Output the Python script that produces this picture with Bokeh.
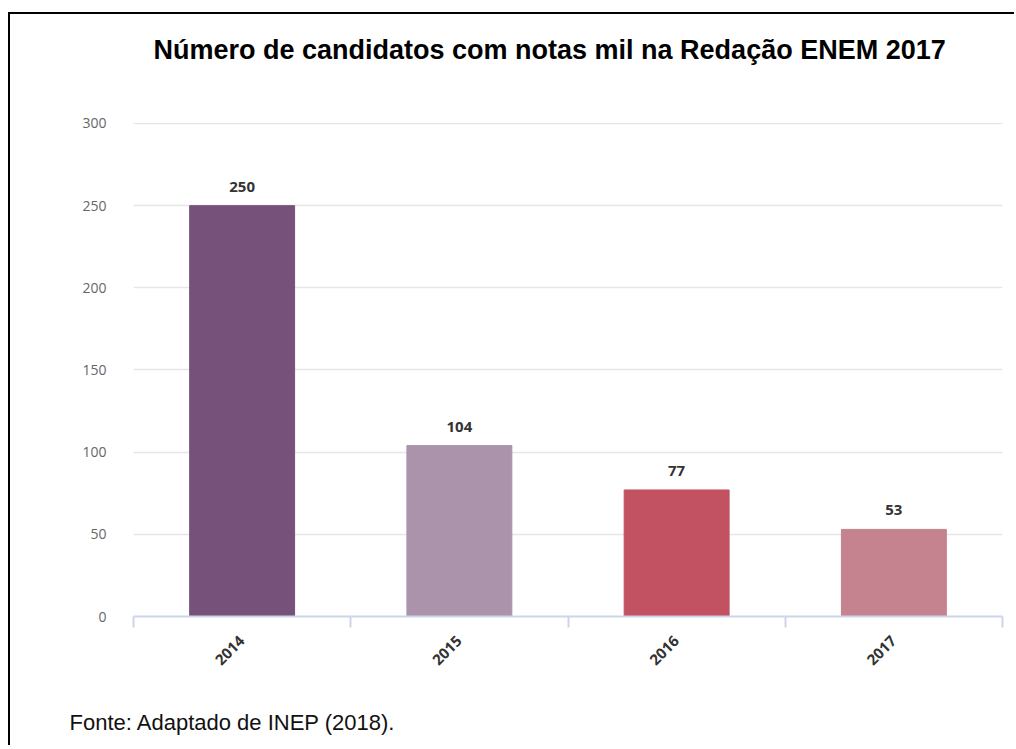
from bokeh.plotting import figure
from bokeh.models import (ColumnDataSource, FixedTicker, LabelSet, Title, Range1d)
from bokeh.core.properties import value
from bokeh.embed import file_html
from bokeh.resources import INLINE
import math

years = ["2014", "2015", "2016", "2017"]
values = [250, 104, 77, 53]
colors = ["#76527a", "#ab93ab", "#c25262", "#c5838f"]
y_ticks = [0, 50, 100, 150, 200, 250, 300]
title_text = "Número de candidatos com notas mil na Redação ENEM 2017"
source_text = "Fonte: Adaptado de INEP (2018)."

xc = [i + 0.5 for i in range(len(years))]
src = ColumnDataSource(dict(x=xc, top=values, color=colors,
                            label=[str(v) for v in values]))

# canvas is shifted by (10, 14) by the CSS border/margin below
p = figure(width=1006, height=733, output_backend="svg", toolbar_location=None,
           x_range=Range1d(0, len(years)), y_range=Range1d(0, 300.6),
           min_border_left=123, min_border_right=14, min_border_top=108,
           min_border_bottom=131, title=title_text)
p.styles = {"border-left": "2px solid #000000", "border-top": "2px solid #000000",
            "margin-left": "8px", "margin-top": "12px"}
p.outline_line_color = None
p.background_fill_color = "white"
p.border_fill_color = "white"

p.vbar(x="x", top="top", width=0.483, bottom=0, color="color", source=src)

labels = LabelSet(x="x", y="top", text="label", source=src, y_offset=14,
                  text_align="center", text_baseline="alphabetic",
                  text_font=value("Open Sans"), text_font_style="bold",
                  text_font_size="15px", text_color="#333333")
p.add_layout(labels)

# x axis
p.xaxis.ticker = FixedTicker(ticks=xc, minor_ticks=list(range(len(years) + 1)))
p.xaxis.major_label_overrides = {x: y for x, y in zip(xc, years)}
p.xaxis.major_label_orientation = math.pi / 4
p.xaxis.major_tick_line_color = None
p.xaxis.minor_tick_line_color = "#ccd6eb"
p.xaxis.minor_tick_line_width = 2
p.xaxis.minor_tick_out = 11
p.xaxis.minor_tick_in = 0
p.xaxis.axis_line_color = "#ccd6eb"
p.xaxis.axis_line_width = 2
p.xaxis.major_label_text_font = "Open Sans"
p.xaxis.major_label_text_font_style = "bold"
p.xaxis.major_label_text_font_size = "15px"
p.xaxis.major_label_text_color = "#333333"
p.xaxis.major_label_standoff = 11
p.xgrid.grid_line_color = None

# y axis
p.yaxis.ticker = FixedTicker(ticks=y_ticks)
p.yaxis.axis_line_color = None
p.yaxis.major_tick_line_color = None
p.yaxis.minor_tick_line_color = None
p.yaxis.major_label_text_font = "Open Sans"
p.yaxis.major_label_text_font_size = "14px"
p.yaxis.major_label_text_color = "#666666"
p.yaxis.major_label_standoff = 21
p.ygrid.ticker = FixedTicker(ticks=y_ticks[1:])
p.ygrid.grid_line_color = "#e6e6e6"
p.ygrid.grid_line_width = 1.5

# title (outermost) with a blank spacer between it and the plot
p.title.align = "left"
p.title.offset = 20
p.title.text_font = "Liberation Sans"
p.title.text_font_size = "27px"
p.title.text_font_style = "bold"
p.title.text_color = "#000000"
p.title.standoff = 34
p.add_layout(Title(text=" ", text_font_size="10px", standoff=28), "above")

# footer, with a blank spacer between it and the x axis
p.add_layout(Title(text=" ", text_font_size="10px", standoff=19), "below")
foot = Title(text=source_text, align="left", offset=-64,
             text_font="Liberation Sans", text_font_size="22px",
             text_font_style="normal", text_color="#111111", standoff=6)
p.add_layout(foot, "below")

open("out.html", "w").write(file_html(p, INLINE))
